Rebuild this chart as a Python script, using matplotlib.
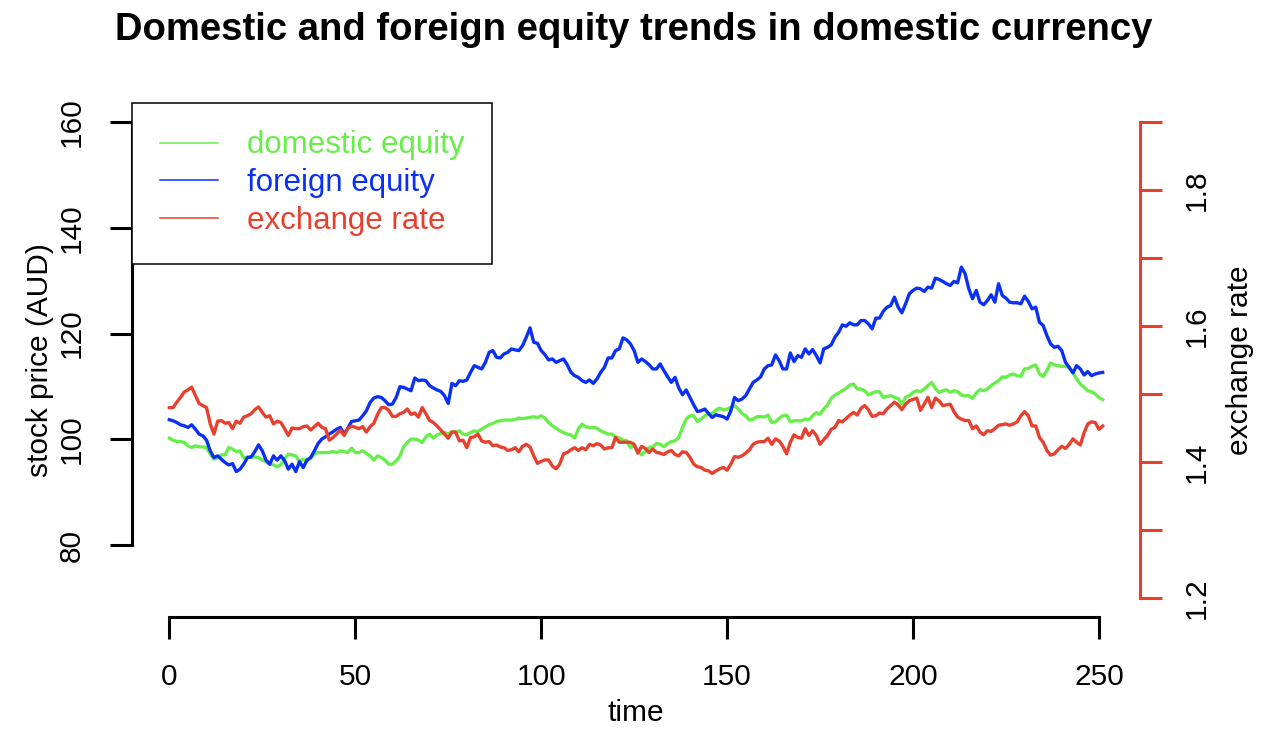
import numpy as np
import matplotlib
matplotlib.use("Agg")
import matplotlib.pyplot as plt
from matplotlib.lines import Line2D

plt.rcParams['font.family'] = ['Liberation Sans', 'DejaVu Sans']

domestic = [
    100.23, 99.85, 99.58, 99.58, 99.39, 98.77, 98.45, 98.77, 98.58, 98.58,
    98.45, 97.19, 96.25, 96.55, 97.06, 97.06, 98.45, 98.14, 97.69, 97.82,
    96.44, 96.68, 96.55, 96.68, 96.55, 96.06, 95.79, 95.30, 95.17, 94.79,
    95.20, 96.30, 97.19, 97.06, 96.87, 95.79, 96.25, 95.92, 96.44, 97.19,
    97.50, 97.50, 97.50, 97.50, 97.69, 97.50, 97.82, 97.69, 97.50, 98.33,
    97.50, 97.50, 97.82, 97.31, 96.87, 96.06, 96.87, 96.55, 96.06, 95.30,
    95.30, 95.92, 96.82, 98.58, 99.39, 100.04, 100.04, 99.85, 99.39, 100.47,
    100.99, 100.23, 100.85, 101.10, 101.29, 100.99, 101.48, 101.29, 101.61, 100.99,
    100.85, 101.29, 101.61, 101.48, 101.93, 102.37, 102.75, 103.00, 103.37, 103.51,
    103.64, 103.64, 103.64, 103.75, 104.02, 103.92, 104.02, 104.13, 104.27, 104.13,
    104.45, 104.02, 103.18, 102.56, 102.12, 101.61, 101.29, 100.99, 100.85, 100.23,
    101.93, 102.88, 102.37, 102.24, 102.24, 102.12, 101.61, 101.29, 100.99, 100.99,
    100.47, 100.23, 99.85, 99.72, 98.45, 98.77, 97.82, 97.06, 97.67, 98.45,
    98.58, 99.20, 99.09, 98.58, 99.20, 99.58, 99.72, 100.34, 102.24, 103.83,
    104.45, 104.45, 103.37, 103.83, 104.45, 104.78, 104.89, 105.54, 105.91, 105.54,
    105.73, 106.03, 106.35, 105.73, 104.89, 104.45, 103.64, 103.83, 104.27, 104.30,
    104.21, 104.59, 103.18, 103.32, 103.94, 104.45, 104.59, 103.32, 103.51, 103.51,
    103.51, 103.83, 103.70, 104.45, 105.08, 104.78, 105.73, 106.48, 107.73, 108.38,
    108.76, 109.19, 109.63, 110.27, 110.46, 109.52, 109.52, 109.19, 108.38, 108.76,
    109.00, 108.97, 107.92, 108.11, 108.25, 107.92, 107.73, 106.67, 107.92, 108.25,
    108.87, 109.19, 109.00, 109.52, 110.14, 110.77, 109.63, 108.87, 109.19, 109.38,
    108.87, 109.19, 109.00, 108.38, 108.25, 108.25, 107.73, 108.76, 109.38, 109.19,
    109.52, 110.14, 110.65, 111.09, 111.81, 111.72, 112.17, 112.36, 112.04, 111.90,
    113.31, 113.42, 113.80, 114.07, 112.36, 111.90, 112.99, 114.45, 114.07, 113.93,
    113.80, 113.80, 113.61, 112.66, 111.41, 110.46, 109.82, 109.19, 109.00, 108.57,
    107.92, 107.49,
]

foreign = [
    103.70, 103.51, 103.18, 102.75, 102.56, 102.24, 102.75, 101.93, 100.99, 100.66,
    99.85, 97.82, 96.55, 96.87, 96.25, 95.60, 95.17, 95.41, 93.90, 94.35,
    95.30, 96.55, 96.68, 97.69, 98.96, 97.82, 96.06, 95.30, 96.87, 96.06,
    96.87, 95.98, 94.35, 95.30, 93.90, 95.79, 94.65, 96.06, 96.55, 97.82,
    99.20, 100.04, 100.47, 100.99, 101.42, 101.93, 102.24, 100.99, 102.12, 103.37,
    103.51, 103.64, 104.45, 105.40, 106.98, 107.81, 108.06, 107.92, 107.30, 106.54,
    106.67, 107.92, 109.95, 109.82, 109.52, 109.19, 111.60, 111.09, 111.22, 111.09,
    110.14, 109.71, 109.33, 109.06, 108.25, 106.79, 110.58, 110.14, 111.09, 110.96,
    111.22, 112.66, 113.93, 113.61, 113.31, 114.56, 116.45, 116.78, 115.51, 115.39,
    116.15, 116.45, 117.10, 116.91, 116.78, 117.72, 119.30, 121.08, 118.35, 118.16,
    116.78, 116.02, 115.01, 115.20, 114.56, 114.88, 115.20, 114.12, 112.66, 112.04,
    111.72, 111.09, 110.77, 111.22, 110.58, 111.41, 112.66, 113.61, 115.39, 115.39,
    116.78, 117.10, 119.18, 118.81, 118.05, 116.78, 114.56, 115.20, 114.73, 114.12,
    113.31, 113.31, 114.26, 112.99, 111.85, 110.77, 111.72, 109.71, 108.44, 109.33,
    107.92, 106.54, 105.27, 105.40, 105.73, 104.89, 104.13, 104.64, 104.45, 104.27,
    103.83, 105.40, 107.92, 107.30, 107.62, 108.25, 109.52, 110.77, 111.22, 111.79,
    113.31, 113.93, 114.07, 115.96, 114.88, 113.31, 113.31, 116.34, 114.69, 115.83,
    115.51, 117.10, 116.15, 116.97, 115.83, 114.45, 117.10, 117.40, 117.86, 119.30,
    120.25, 121.65, 121.38, 122.03, 121.65, 121.65, 122.46, 122.46, 121.84, 120.89,
    122.90, 122.94, 124.21, 124.99, 125.31, 126.88, 124.99, 123.92, 125.63, 127.53,
    128.15, 128.59, 128.47, 127.96, 128.78, 128.59, 130.48, 130.24, 129.86, 129.42,
    129.10, 129.86, 129.61, 132.57, 131.32, 128.47, 126.58, 128.15, 125.93, 125.44,
    126.26, 127.34, 125.93, 129.42, 127.20, 126.69, 125.93, 125.82, 125.82, 125.63,
    127.07, 126.07, 124.68, 124.99, 122.14, 121.52, 119.62, 118.05, 117.40, 117.59,
    116.78, 114.56, 113.61, 112.55, 113.93, 113.31, 112.17, 112.80, 112.04, 112.36,
    112.55, 112.66,
]

exchange_rate = [
    1.480, 1.480, 1.488, 1.495, 1.503, 1.506, 1.510, 1.498, 1.486, 1.483,
    1.480, 1.456, 1.441, 1.460, 1.461, 1.457, 1.458, 1.449, 1.460, 1.457,
    1.466, 1.468, 1.471, 1.477, 1.481, 1.473, 1.466, 1.468, 1.456, 1.460,
    1.458, 1.449, 1.439, 1.450, 1.449, 1.449, 1.452, 1.453, 1.447, 1.452,
    1.457, 1.451, 1.449, 1.432, 1.436, 1.441, 1.447, 1.439, 1.449, 1.453,
    1.451, 1.449, 1.452, 1.444, 1.452, 1.457, 1.470, 1.480, 1.480, 1.476,
    1.467, 1.467, 1.471, 1.473, 1.478, 1.470, 1.472, 1.466, 1.480, 1.471,
    1.461, 1.458, 1.453, 1.447, 1.441, 1.435, 1.444, 1.444, 1.431, 1.432,
    1.421, 1.436, 1.437, 1.441, 1.431, 1.429, 1.430, 1.424, 1.425, 1.422,
    1.421, 1.417, 1.418, 1.421, 1.415, 1.423, 1.426, 1.422, 1.409, 1.398,
    1.401, 1.403, 1.403, 1.394, 1.390, 1.397, 1.412, 1.414, 1.418, 1.421,
    1.417, 1.421, 1.418, 1.426, 1.424, 1.427, 1.425, 1.419, 1.421, 1.421,
    1.436, 1.429, 1.429, 1.429, 1.429, 1.426, 1.413, 1.423, 1.420, 1.414,
    1.419, 1.414, 1.413, 1.411, 1.415, 1.417, 1.411, 1.409, 1.415, 1.414,
    1.407, 1.397, 1.393, 1.392, 1.388, 1.387, 1.383, 1.387, 1.390, 1.392,
    1.388, 1.397, 1.408, 1.407, 1.409, 1.413, 1.418, 1.426, 1.429, 1.430,
    1.430, 1.435, 1.426, 1.434, 1.431, 1.423, 1.412, 1.429, 1.440, 1.436,
    1.435, 1.449, 1.439, 1.446, 1.439, 1.426, 1.433, 1.439, 1.448, 1.451,
    1.461, 1.459, 1.464, 1.469, 1.473, 1.469, 1.479, 1.483, 1.477, 1.467,
    1.468, 1.472, 1.471, 1.478, 1.483, 1.488, 1.484, 1.477, 1.485, 1.490,
    1.492, 1.494, 1.476, 1.485, 1.495, 1.480, 1.494, 1.490, 1.483, 1.484,
    1.485, 1.474, 1.466, 1.463, 1.461, 1.461, 1.449, 1.453, 1.444, 1.440,
    1.446, 1.445, 1.449, 1.454, 1.455, 1.456, 1.454, 1.456, 1.459, 1.468,
    1.474, 1.468, 1.453, 1.453, 1.436, 1.429, 1.417, 1.410, 1.412, 1.418,
    1.423, 1.420, 1.426, 1.434, 1.429, 1.425, 1.443, 1.456, 1.459, 1.458,
    1.448, 1.453,
]

labels = ['domestic equity', 'foreign equity', 'exchange rate']
colors = ['#68ee4a', '#0a30f5', '#e8402e']
left_ticks = [80, 100, 120, 140, 160]
right_ticks = [1.2, 1.3, 1.4, 1.5, 1.6, 1.7, 1.8, 1.9]
x_ticks = [0, 50, 100, 150, 200, 250]

time = np.arange(len(domestic))
W, H = 1264, 734
fig = plt.figure(figsize=(W / 100, H / 100), dpi=100)
ax = fig.add_axes([132 / W, 1 - 617 / H, (1140 - 132) / W, (617 - 103) / H])
ax2 = ax.twinx()

fs = 21.5
ax.plot(time, domestic, color=colors[0], lw=2.4)
ax.plot(time, foreign, color=colors[1], lw=2.4)
ax2.plot(time, exchange_rate, color=colors[2], lw=2.4)

ax.set_xlim(-10.04, 261.04)
ax.set_ylim(66.4, 163.6)
ax2.set_ylim(1.172, 1.928)

for a in (ax, ax2):
    a.patch.set_visible(False)
    for s in a.spines.values():
        s.set_visible(False)

ax.spines['left'].set_visible(True)
ax.spines['left'].set_bounds(80, 160)
ax.spines['bottom'].set_visible(True)
ax.spines['bottom'].set_bounds(0, 250)
for s in ('left', 'bottom'):
    ax.spines[s].set_linewidth(2.2)
ax.set_xticks(x_ticks)
ax.set_yticks(left_ticks)
ax.tick_params(length=16, width=2.2, pad=17, labelsize=fs)
ax.tick_params(axis='y', labelrotation=90)
for lab in ax.get_yticklabels():
    lab.set_va('center')

ax2.spines['right'].set_visible(True)
ax2.spines['right'].set_bounds(1.2, 1.9)
ax2.spines['right'].set_color(colors[2])
ax2.spines['right'].set_linewidth(2.2)
ax2.set_yticks(right_ticks)
ax2.set_yticklabels([f'{v:.1f}' if i % 2 == 0 else '' for i, v in enumerate(right_ticks)])
ax2.tick_params(axis='y', length=16, width=2.2, pad=15, labelsize=fs,
                color=colors[2], labelrotation=90)
for lab in ax2.get_yticklabels():
    lab.set_va('center')

fig.text(634 / W, 1 - 30 / H, 'Domestic and foreign equity trends in domestic currency',
         ha='center', va='center', fontsize=27.5, fontweight='bold')
fig.text(40 / W, 1 - 360 / H, 'stock price (AUD)', rotation=90, ha='center', va='center', fontsize=fs)
fig.text(636 / W, 1 - 713 / H, 'time', ha='center', va='center', fontsize=fs)
fig.text(1240 / W, 1 - 360 / H, 'exchange rate', rotation=90, ha='center', va='center', fontsize=fs)

handles = [Line2D([], [], color=c, lw=1.1) for c in colors]
leg = ax.legend(handles, labels, loc='upper left', bbox_to_anchor=(0, 1), borderaxespad=0,
                fontsize=22.5, labelcolor=colors, fancybox=False, framealpha=1,
                edgecolor='black', handlelength=1.86, handletextpad=0.93,
                labelspacing=0.25, borderpad=0.88)
leg.get_frame().set_linewidth(1.1)
leg.set_zorder(10)

fig.savefig('out.png', dpi=100)
